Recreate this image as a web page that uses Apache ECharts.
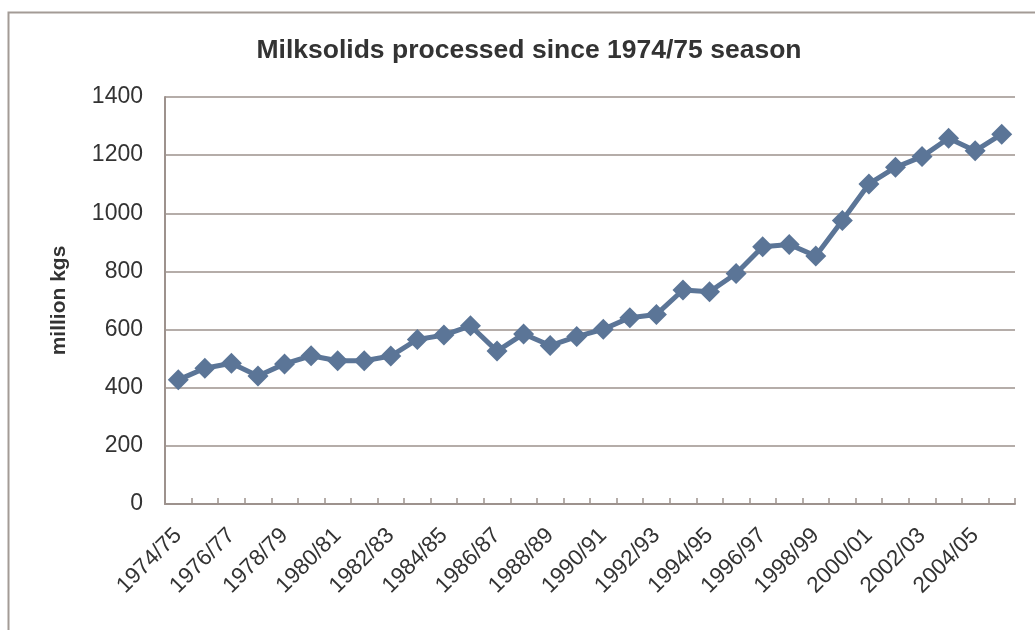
<!DOCTYPE html>
<html>
<head>
<meta charset="utf-8">
<script src="https://cdn.jsdelivr.net/npm/echarts@6/dist/echarts.min.js"></script>
<style>
  html, body { margin: 0; padding: 0; background: #fff; }
  #chart { width: 1035px; height: 630px; }
</style>
</head>
<body>
<div id="chart"></div>
<script>
"use strict"

const seasons = [
    "1974/75", "1975/76", "1976/77", "1977/78", "1978/79", "1979/80", "1980/81", "1981/82",
    "1982/83", "1983/84", "1984/85", "1985/86", "1986/87", "1987/88", "1988/89", "1989/90",
    "1990/91", "1991/92", "1992/93", "1993/94", "1994/95", "1995/96", "1996/97", "1997/98",
    "1998/99", "1999/00", "2000/01", "2001/02", "2002/03", "2003/04", "2004/05", "2005/06"
];
const milksolids = [
    427, 467, 484, 440, 482, 510, 493, 493,
    509, 566, 581, 613, 526, 585, 545, 576,
    601, 641, 652, 736, 730, 793, 885, 893,
    853, 975, 1101, 1158, 1195, 1258, 1215, 1272
];
const yTicks = [0, 200, 400, 600, 800, 1000, 1200, 1400];

const axisGrey = "#9d928d";
const textCol = "#333333";
const lineCol = "#5b7597";
const font = "Liberation Sans, Arial, sans-serif";

const myChart = echarts.init(document.getElementById("chart"), null, { renderer: "canvas" });

const option = {
    animation: false,
    backgroundColor: "#ffffff",
    textStyle: { fontFamily: font },
    title: {
        text: "Milksolids processed since 1974/75 season",
        left: 524,
        textAlign: "center",
        top: 32,
        textStyle: { fontSize: 26.5, fontWeight: "bold", color: textCol, fontFamily: font }
    },
    graphic: [{
        type: "rect",
        silent: true,
        shape: { x: 8.5, y: 12.5, width: 1100, height: 700 },
        style: { fill: null, stroke: "#a39b96", lineWidth: 2 }
    }],
    grid: { left: 165, right: 20, top: 97, bottom: 126, containLabel: false },
    xAxis: {
        type: "category",
        data: seasons,
        boundaryGap: true,
        axisLine: { lineStyle: { color: axisGrey, width: 2 } },
        axisTick: { show: true, inside: true, length: 6, interval: 0, lineStyle: { color: axisGrey, width: 1.5 } },
        axisLabel: { interval: 1, rotate: 45, fontSize: 22.5, color: textCol, margin: 28 },
        splitLine: { show: false }
    },
    yAxis: {
        type: "value",
        min: yTicks[0],
        max: yTicks[yTicks.length - 1],
        interval: 200,
        name: "million kgs",
        nameLocation: "middle",
        nameGap: 95,
        nameTextStyle: { fontSize: 21, fontWeight: "bold", color: textCol },
        axisLine: { show: true, lineStyle: { color: axisGrey, width: 2 } },
        axisTick: { show: false },
        axisLabel: { fontSize: 23, color: textCol, margin: 22, formatter: v => String(v) },
        splitLine: { lineStyle: { color: axisGrey, width: 1.5 } }
    },
    series: [{
        name: "Milksolids",
        type: "line",
        data: milksolids,
        showAllSymbol: true,
        symbol: "diamond",
        symbolSize: 21,
        lineStyle: { color: lineCol, width: 5 },
        itemStyle: { color: lineCol }
    }]
};
myChart.setOption(option);
</script>
</body>
</html>
